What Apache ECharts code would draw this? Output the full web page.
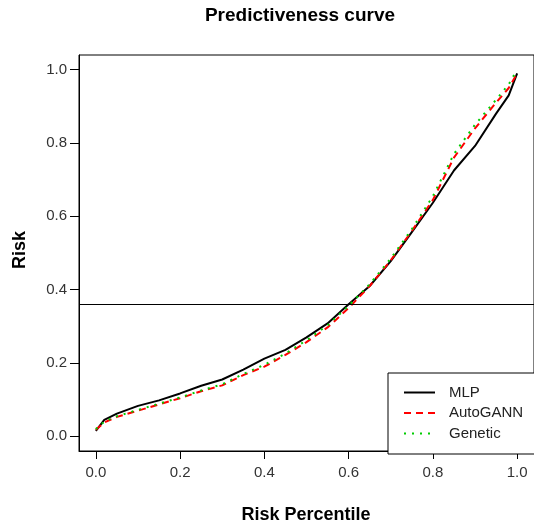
<!DOCTYPE html>
<html>
<head>
<meta charset="utf-8">
<script src="https://cdn.jsdelivr.net/npm/echarts@6/dist/echarts.min.js"></script>
<style>
html,body{margin:0;padding:0;background:#fff;}
#chart{width:534px;height:524px;}
</style>
</head>
<body>
<div id="chart"></div>
<script>
// Data
var percentiles = [0, 0.02, 0.05, 0.1, 0.15, 0.2, 0.25, 0.3, 0.35, 0.4, 0.45, 0.5, 0.55, 0.6, 0.65, 0.7, 0.75, 0.8, 0.85, 0.9, 0.95, 0.98, 1.0];
var mlp      = [0.015, 0.045, 0.062, 0.083, 0.098, 0.117, 0.138, 0.155, 0.182, 0.212, 0.236, 0.270, 0.308, 0.360, 0.410, 0.478, 0.557, 0.637, 0.725, 0.792, 0.880, 0.930, 0.990];
var autoGANN = [0.018, 0.038, 0.053, 0.070, 0.087, 0.104, 0.123, 0.139, 0.167, 0.190, 0.222, 0.257, 0.297, 0.350, 0.410, 0.480, 0.560, 0.645, 0.760, 0.840, 0.910, 0.950, 0.990];
var genetic  = [0.020, 0.040, 0.055, 0.072, 0.089, 0.106, 0.125, 0.142, 0.170, 0.195, 0.226, 0.262, 0.303, 0.356, 0.415, 0.485, 0.565, 0.655, 0.770, 0.850, 0.918, 0.960, 1.000];
var threshold = [0.364];
var xTicks = [0, 0.2, 0.4, 0.6, 0.8, 1.0];
var yTicks = [0, 0.2, 0.4, 0.6, 0.8, 1.0];
var seriesNames = ['MLP', 'AutoGANN', 'Genetic'];

function pairs(xs, ys) { return xs.map(function (x, i) { return [x, ys[i]]; }); }

var FONT = 'Liberation Sans, Arial, sans-serif';
var chart = echarts.init(document.getElementById('chart'), null, {renderer: 'canvas'});

var tickFmt = function (v) { return Number(v).toFixed(1); };

var option = {
  animation: false,
  backgroundColor: '#fff',
  grid: {left: 79, top: 55, width: 456, height: 396, show: true, borderColor: '#000', borderWidth: 1, backgroundColor: 'transparent', containLabel: false},
  xAxis: {
    type: 'value', min: -0.04, max: 1.04,
    axisLine: {show: true, onZero: false, lineStyle: {color: '#000', width: 1}},
    axisTick: {show: true, inside: false, length: 8, customValues: xTicks, lineStyle: {color: '#000'}},
    axisLabel: {show: true, margin: 14, customValues: xTicks, formatter: tickFmt, color: '#333', fontSize: 15, fontFamily: FONT},
    splitLine: {show: false}
  },
  yAxis: {
    type: 'value', min: -0.04, max: 1.04,
    axisLine: {show: true, onZero: false, lineStyle: {color: '#000', width: 1}},
    axisTick: {show: true, inside: false, length: 9, customValues: yTicks, lineStyle: {color: '#000'}},
    axisLabel: {show: true, margin: 12, customValues: yTicks, formatter: tickFmt, color: '#333', fontSize: 15, fontFamily: FONT},
    splitLine: {show: false}
  },
  legend: {
    orient: 'vertical', left: 388, top: 373,
    padding: [12, 30, 13, 15],
    itemWidth: 31, itemHeight: 14, itemGap: 5.5,
    borderColor: '#000', borderWidth: 1, borderRadius: 0, backgroundColor: '#fff',
    data: seriesNames,
    itemStyle: {opacity: 0, borderWidth: 0},
    textStyle: {color: '#222', fontSize: 15, fontFamily: FONT, padding: [0, 0, 0, 9]}
  },
  graphic: [
    {type: 'text', style: {text: 'Predictiveness curve', x: 300, y: 16, textAlign: 'center', textVerticalAlign: 'middle', font: 'bold 19px ' + FONT, fill: '#000'}},
    {type: 'text', style: {text: 'Risk Percentile', x: 306, y: 515, textAlign: 'center', textVerticalAlign: 'middle', font: 'bold 18px ' + FONT, fill: '#000'}},
    {type: 'text', x: 20, y: 250, rotation: Math.PI / 2, style: {text: 'Risk', x: 0, y: 0, textAlign: 'center', textVerticalAlign: 'middle', font: 'bold 18px ' + FONT, fill: '#000'}}
  ],
  series: [
    {name: 'MLP', type: 'line', data: pairs(percentiles, mlp), showSymbol: false, symbol: 'none', smooth: false,
     lineStyle: {color: '#000', width: 2, type: 'solid'}, itemStyle: {color: '#000'},
     markLine: {silent: true, symbol: ['none', 'none'], label: {show: false},
       lineStyle: {color: '#000', width: 1, type: 'solid'},
       data: threshold.map(function (t) { return {yAxis: t}; })}},
    {name: 'AutoGANN', type: 'line', data: pairs(percentiles, autoGANN), showSymbol: false, symbol: 'none',
     lineStyle: {color: '#ff0000', width: 2, type: [7, 5]}, itemStyle: {color: '#ff0000'}},
    {name: 'Genetic', type: 'line', data: pairs(percentiles, genetic), showSymbol: false, symbol: 'none',
     lineStyle: {color: '#00cc00', width: 2, type: [2, 6]}, itemStyle: {color: '#00cc00'}}
  ]
};
chart.setOption(option);
</script>
</body>
</html>
